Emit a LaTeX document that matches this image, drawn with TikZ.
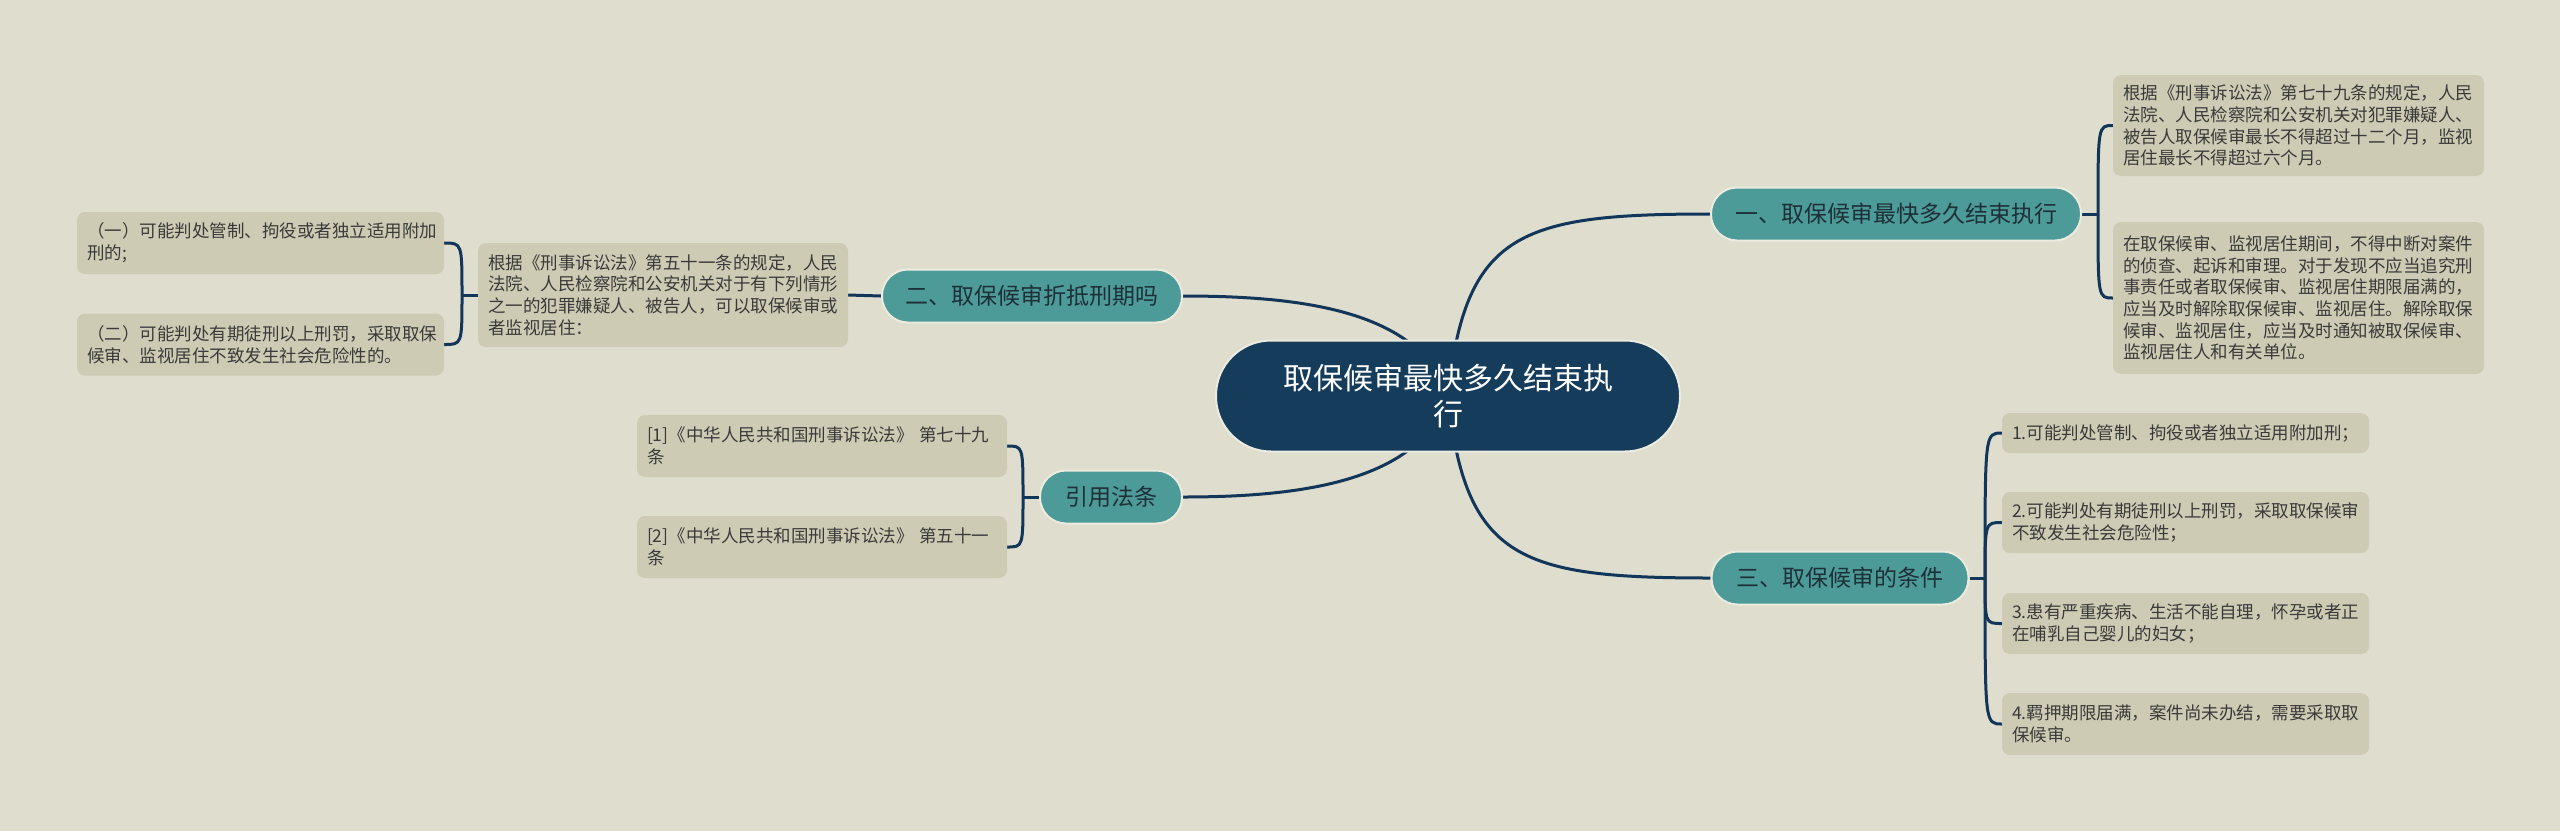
\documentclass[tikz,border=0pt]{standalone}
\usepackage{fontspec}
\setmainfont{Noto Sans CJK SC}
\definecolor{bgc}{HTML}{DFDDCE}
\definecolor{boxc}{HTML}{CECBB4}
\definecolor{pillc}{HTML}{4D9B99}
\definecolor{centc}{HTML}{163C5C}
\definecolor{linec}{HTML}{12365A}
\definecolor{boxtext}{HTML}{3A3A3A}
\definecolor{pilltext}{HTML}{1D3038}
\definecolor{pilledge}{HTML}{ECEBDF}
\pgfdeclarelayer{bg}
\pgfsetlayers{bg,main}
\begin{document}
\begin{tikzpicture}[x=1pt,y=-1pt,
  box/.style={fill=boxc, rounded corners=8pt, inner xsep=10pt, inner ysep=0pt,
    align=left, text=boxtext, font=\fontsize{17.5}{21.7}\selectfont},
  pill/.style={fill=pillc, draw=pilledge, line width=2pt, rounded corners=26pt,
    minimum height=53pt, inner sep=0pt, text=pilltext, font=\fontsize{23}{28}\selectfont},
  conn/.style={draw=linec, line width=3pt}
]
\useasboundingbox (0,0) rectangle (2560,831);
\begin{pgfonlayer}{bg}
\fill[bgc] (0,0) rectangle (2560,831);
\end{pgfonlayer}

% central
\node[fill=centc, draw=pilledge, line width=2pt, rounded corners=55pt,
  minimum width=464pt, minimum height=111pt, inner sep=0pt, text=white,
  align=center, font=\fontsize{30}{36}\selectfont] (c) at (1448,396)
  {取保候审最快多久结束执\\行};

% main branches
\node[pill, minimum width=370pt] (p1) at (1896,214) {一、取保候审最快多久结束执行};
\node[pill, minimum width=300pt] (p2) at (1032,296) {二、取保候审折抵刑期吗};
\node[pill, minimum width=257pt] (p3) at (1840,578) {三、取保候审的条件};
\node[pill, minimum width=142pt] (p4) at (1111,497) {引用法条};

% right top boxes
\node[box, minimum height=101pt, text width=351pt] (r1) at (2298.5,125.5)
 {根据《刑事诉讼法》第七十九条的规定，人民\\法院、人民检察院和公安机关对犯罪嫌疑人、\\被告人取保候审最长不得超过十二个月，监视\\居住最长不得超过六个月。};
\node[box, minimum height=152pt, text width=351pt] (r2) at (2298.5,298)
 {在取保候审、监视居住期间，不得中断对案件\\的侦查、起诉和审理。对于发现不应当追究刑\\事责任或者取保候审、监视居住期限届满的，\\应当及时解除取保候审、监视居住。解除取保\\候审、监视居住，应当及时通知被取保候审、\\监视居住人和有关单位。};

% right bottom boxes
\node[box, minimum height=40pt, text width=347pt] (b1) at (2185.5,433)
 {1.可能判处管制、拘役或者独立适用附加刑；};
\node[box, minimum height=61pt, text width=347pt] (b2) at (2185.5,522.5)
 {2.可能判处有期徒刑以上刑罚，采取取保候审\\不致发生社会危险性；};
\node[box, minimum height=61pt, text width=347pt] (b3) at (2185.5,623.5)
 {3.患有严重疾病、生活不能自理，怀孕或者正\\在哺乳自己婴儿的妇女；};
\node[box, minimum height=62pt, text width=347pt] (b4) at (2185.5,724)
 {4.羁押期限届满，案件尚未办结，需要采取取\\保候审。};

% left boxes
\node[box, minimum height=104pt, text width=350pt] (L) at (663,295)
 {根据《刑事诉讼法》第五十一条的规定，人民\\法院、人民检察院和公安机关对于有下列情形\\之一的犯罪嫌疑人、被告人，可以取保候审或\\者监视居住：};
\node[box, minimum height=62pt, text width=347pt] (c1) at (260.5,243)
 {（一）可能判处管制、拘役或者独立适用附加\\刑的;};
\node[box, minimum height=62pt, text width=347pt] (c2) at (260.5,344.5)
 {（二）可能判处有期徒刑以上刑罚，采取取保\\候审、监视居住不致发生社会危险性的。};

% reference boxes
\node[box, minimum height=62pt, text width=350pt] (f1) at (822,446)
 {[1]《中华人民共和国刑事诉讼法》~第七十九\\条};
\node[box, minimum height=62pt, text width=350pt] (f2) at (822,547)
 {[2]《中华人民共和国刑事诉讼法》~第五十一\\条};

% junctions
\coordinate (j1) at (2098,214);
\coordinate (j2) at (462,295);
\coordinate (j3) at (1985,578);
\coordinate (j4) at (1023,497);

\begin{pgfonlayer}{bg}
% center to branches
\draw[conn] (c.center) .. controls (1465,232) and (1520,214) .. (p1.west);
\draw[conn] (c.center) .. controls (1420,310) and (1300,296) .. (p2.east);
\draw[conn] (c.center) .. controls (1420,482) and (1300,497) .. (p4.east);
\draw[conn] (c.center) .. controls (1465,560) and (1520,578) .. (p3.west);
% branch 1
\draw[conn] (p1.east) -- (j1);
\draw[conn] (j1) .. controls (j1 |- r1.west) .. (r1.west);
\draw[conn] (j1) .. controls (j1 |- r2.west) .. (r2.west);
% branch 2
\draw[conn] (p2.west) -- (L.east);
\draw[conn] (L.west) -- (j2);
\draw[conn] (j2) .. controls (j2 |- c1.east) .. (c1.east);
\draw[conn] (j2) .. controls (j2 |- c2.east) .. (c2.east);
% branch 3
\draw[conn] (p3.east) -- (j3);
\draw[conn] (j3) .. controls (j3 |- b1.west) .. (b1.west);
\draw[conn] (j3) .. controls (j3 |- b2.west) .. (b2.west);
\draw[conn] (j3) .. controls (j3 |- b3.west) .. (b3.west);
\draw[conn] (j3) .. controls (j3 |- b4.west) .. (b4.west);
% branch 4
\draw[conn] (p4.west) -- (j4);
\draw[conn] (j4) .. controls (j4 |- f1.east) .. (f1.east);
\draw[conn] (j4) .. controls (j4 |- f2.east) .. (f2.east);
\end{pgfonlayer}
\end{tikzpicture}
\end{document}
